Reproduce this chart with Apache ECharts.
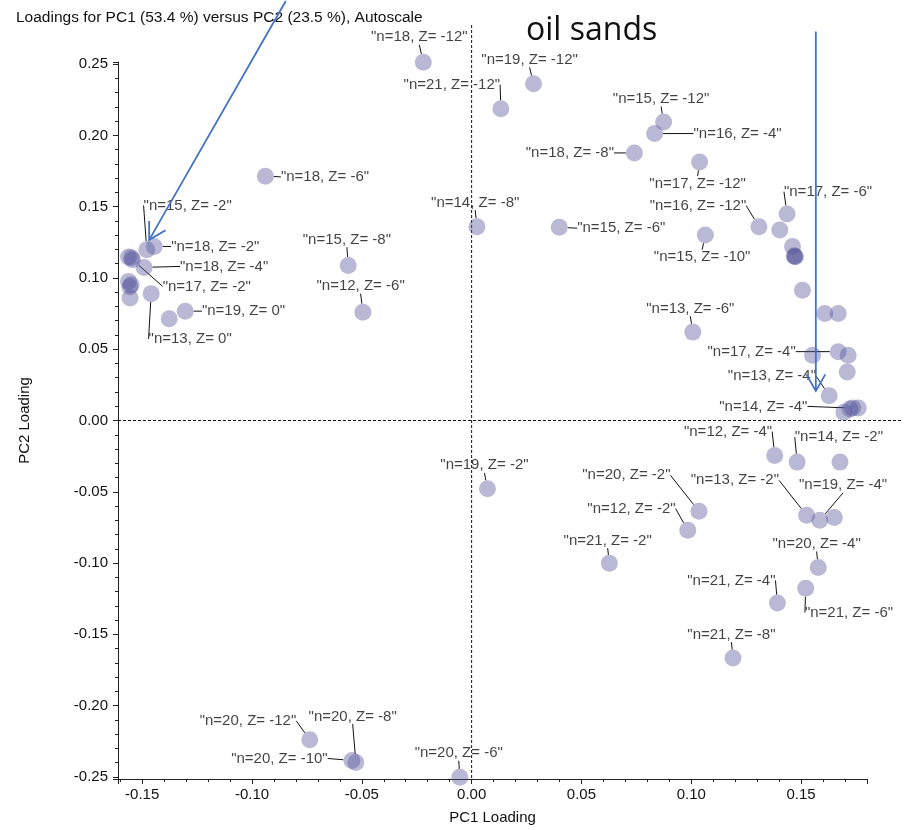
<!DOCTYPE html>
<html><head><meta charset="utf-8">
<script src="https://cdn.jsdelivr.net/npm/echarts@6/dist/echarts.min.js"></script>
<style>html,body{margin:0;padding:0;background:#fff}#c{width:909px;height:830px}</style>
</head><body><div id="c"></div>
<script>
const titleText = 'Loadings for PC1 (53.4 %) versus PC2 (23.5 %), Autoscale';
const xName = 'PC1 Loading';
const yName = 'PC2 Loading';
const annotationText = 'oil sands';
const xRange = [-0.161, 0.18];
const yRange = [-0.2515, 0.2515];

const pc1 = [-0.0220, 0.0282, 0.0133, 0.0874, 0.0833, 0.0741, 0.1038, -0.0939, 0.0024, 0.0399,
  0.1308, 0.1403, 0.1436, 0.1064, 0.1461, 0.1469, 0.1474, 0.1471, 0.1506, 0.1608,
  0.1669, 0.1007, 0.1552, 0.1669, 0.1714, 0.1710, 0.1628, 0.1735, 0.1722, 0.1695,
  0.1760, 0.1380, 0.1482, 0.1677, 0.0072, 0.1035, 0.0984, 0.1525, 0.1585, 0.1651,
  0.0627, 0.1578, 0.1521, 0.1392, 0.1190, -0.0737, -0.0545, -0.0527, -0.0054, -0.1445,
  -0.1479, -0.1562, -0.1544, -0.1549, -0.1491, -0.1562, -0.1550, -0.1556, -0.1555, -0.1459,
  -0.1304, -0.1377, -0.0562, -0.0495];
const pc2 = [0.2513, 0.2362, 0.2187, 0.2094, 0.2013, 0.1877, 0.1814, 0.1714, 0.1360, 0.1356,
  0.1360, 0.1337, 0.1449, 0.1302, 0.1221, 0.1155, 0.1148, 0.1151, 0.0913, 0.0751,
  0.0751, 0.0620, 0.0457, 0.0483, 0.0457, 0.0341, 0.0173, 0.0087, 0.0080, 0.0057,
  0.0087, -0.0246, -0.0292, -0.0292, -0.0478, -0.0637, -0.0770, -0.0665, -0.0700, -0.0681,
  -0.1002, -0.1032, -0.1177, -0.1281, -0.1666, -0.2240, -0.2385, -0.2399, -0.2503, 0.1221,
  0.1198, 0.1147, 0.1128, 0.1142, 0.1074, 0.0976, 0.0953, 0.0939, 0.0860, 0.0890,
  0.0767, 0.0714, 0.1088, 0.0760];
const pointLabels = ['n=18, Z= -12', 'n=19, Z= -12', 'n=21, Z= -12', 'n=15, Z= -12', 'n=16, Z= -4',
  'n=18, Z= -8', 'n=17, Z= -12', 'n=18, Z= -6', 'n=14, Z= -8', 'n=15, Z= -6',
  'n=16, Z= -12', '', 'n=17, Z= -6', 'n=15, Z= -10', '', '', '', '', '', '',
  '', 'n=13, Z= -6', '', 'n=17, Z= -4', '', '', 'n=13, Z= -4', 'n=14, Z= -4', '', '',
  '', 'n=12, Z= -4', 'n=14, Z= -2', '', 'n=19, Z= -2', 'n=20, Z= -2', 'n=12, Z= -2', 'n=13, Z= -2', 'n=19, Z= -4', '',
  'n=21, Z= -2', 'n=20, Z= -4', 'n=21, Z= -6', 'n=21, Z= -4', 'n=21, Z= -8', 'n=20, Z= -12', 'n=20, Z= -10', 'n=20, Z= -8', 'n=20, Z= -6', 'n=18, Z= -2',
  'n=15, Z= -2', '', 'n=17, Z= -2', '', 'n=18, Z= -4', '', '', '', '', 'n=13, Z= 0',
  'n=19, Z= 0', '', 'n=15, Z= -8', 'n=12, Z= -6'];

// label placement (styling): pixel offset of label centre from its point
const labelOffsets = [[-4,-25],[-4,-24],[-49,-24],[-2.5,-23],[83,0],
  [-64.5,0],[-2,21.6],[59.6,0.7],[-1.7,-24],[62,1],
  [-61,-21],null,[41,-22.3],[-3.2,22.3],null,null,null,null,null,null,
  null,[-2.5,-23.4],null,[-86.6,0],null,null,[-57.3,-20],[-89.4,-1.7],null,null,
  null,[-46.7,-24],[41.7,-25],null,[-3,-23.3],[-72.6,-36],[-56.3,-21.7],[-71.7,-35],[23.3,-35],null,
  [-1.7,-22.7],[-1.6,-23.6],[43.3,24.3],[-46,-22.7],[-1.6,-23.3],[-61.8,-19],[-72.5,-2],[-3.2,-46],[-1,-24],[61,0],
  [40.9,-44.3],null,[74.3,26.7],null,[80,-1],null,null,null,null,[39,45.3],
  [58.3,0],null,[-1.3,-25.7],[-2.3,-26]];

// annotation arrows in data coordinates: [start, tip]
const arrows = [[[-0.0846, 0.2943], [-0.1468, 0.1267]], [[0.1567, 0.2729], [0.1567, 0.0208]]];

const FONT = 'Liberation Sans, Arial, sans-serif';
const chart = echarts.init(document.getElementById('c'), null, {renderer: 'canvas'});

function tickFmt(v) {
  const k = v / 0.05;
  if (Math.abs(k - Math.round(k)) > 1e-6) return '';
  const r = Math.round(k) * 0.05;
  return (Math.abs(r) < 1e-9 ? 0 : r).toFixed(2);
}

const axisCommon = {
  type: 'value',
  axisLine: {onZero: false, lineStyle: {color: '#222', width: 1}},
  axisTick: {show: true, length: 5, lineStyle: {color: '#222', width: 1}},
  minorTick: {show: true, splitNumber: 5, length: 3, lineStyle: {color: '#222', width: 1}},
  splitLine: {show: false},
  minorSplitLine: {show: false},
  axisLabel: {formatter: tickFmt, color: '#111', fontSize: 15, fontFamily: FONT, showMinLabel: true, showMaxLabel: true, hideOverlap: false},
  nameLocation: 'middle',
  nameTextStyle: {color: '#111', fontSize: 15, fontFamily: FONT}
};

chart.setOption({
  animation: false,
  title: {text: titleText, left: 11, top: 5, textStyle: {fontSize: 15.5, fontWeight: 'normal', color: '#111', fontFamily: FONT}},
  grid: {left: 118, right: 42, top: 62, bottom: 48, containLabel: false},
  xAxis: Object.assign({}, axisCommon, {min: xRange[0], max: xRange[1], splitNumber: 7, name: xName, nameGap: 31,
    axisLabel: Object.assign({}, axisCommon.axisLabel, {margin: 8})}),
  yAxis: Object.assign({}, axisCommon, {min: yRange[0], max: yRange[1], splitNumber: 10, name: yName, nameGap: 86,
    axisLabel: Object.assign({}, axisCommon.axisLabel, {margin: 10})}),
  series: [{
    type: 'scatter',
    symbol: 'circle',
    symbolSize: 17,
    clip: false,
    itemStyle: {color: 'rgba(81,81,153,0.5)'},
    emphasis: {disabled: true},
    label: {show: true, position: 'inside', color: '#111', fontSize: 15, fontFamily: FONT, padding: [1, 3],
      formatter: p => '"' + p.name + '"'},
    labelLine: {show: true, lineStyle: {color: '#111', width: 1}},
    labelLayout: p => { const o = labelOffsets[p.dataIndex]; return o ? {dx: o[0], dy: o[1]} : {}; },
    data: pc1.map((x, i) => ({
      value: [x, pc2[i]],
      name: pointLabels[i],
      label: {show: !!pointLabels[i]},
      labelLine: {show: !!pointLabels[i]}
    }))
  }]
});

// reference lines and annotations
const rect = chart.getModel().getComponent('grid').coordinateSystem.getRect();
const origin = chart.convertToPixel({gridIndex: 0}, [0, 0]);
const g = [];
g.push({type: 'line', z: 1, shape: {x1: origin[0], y1: 25, x2: origin[0], y2: rect.y + rect.height},
  style: {stroke: '#111', lineWidth: 1, lineDash: [3, 2]}});
g.push({type: 'line', z: 1, shape: {x1: rect.x, y1: origin[1], x2: 903, y2: origin[1]},
  style: {stroke: '#111', lineWidth: 1, lineDash: [3, 2]}});
arrows.forEach(a => {
  const s = chart.convertToPixel({gridIndex: 0}, a[0]);
  const t = chart.convertToPixel({gridIndex: 0}, a[1]);
  const dx = s[0] - t[0], dy = s[1] - t[1];
  const L = Math.hypot(dx, dy), ux = dx / L, uy = dy / L;
  const arm = 19, ang = Math.PI / 6;
  const rot = (c) => [t[0] + arm * (ux * Math.cos(c) - uy * Math.sin(c)), t[1] + arm * (ux * Math.sin(c) + uy * Math.cos(c))];
  const p1 = rot(ang), p2 = rot(-ang);
  g.push({type: 'line', z: 50, shape: {x1: s[0], y1: s[1], x2: t[0], y2: t[1]}, style: {stroke: '#4472C4', lineWidth: 1.8}});
  g.push({type: 'polyline', z: 50, shape: {points: [p1, t, p2]}, style: {stroke: '#4472C4', lineWidth: 1.8, fill: null}});
});
g.push({type: 'text', z: 50, x: 526, y: 31, style: {text: annotationText, fill: '#111', font: '32px "Open Sans", "Noto Sans", sans-serif', textVerticalAlign: 'middle'}});
chart.setOption({graphic: g});
</script>
</body></html>
